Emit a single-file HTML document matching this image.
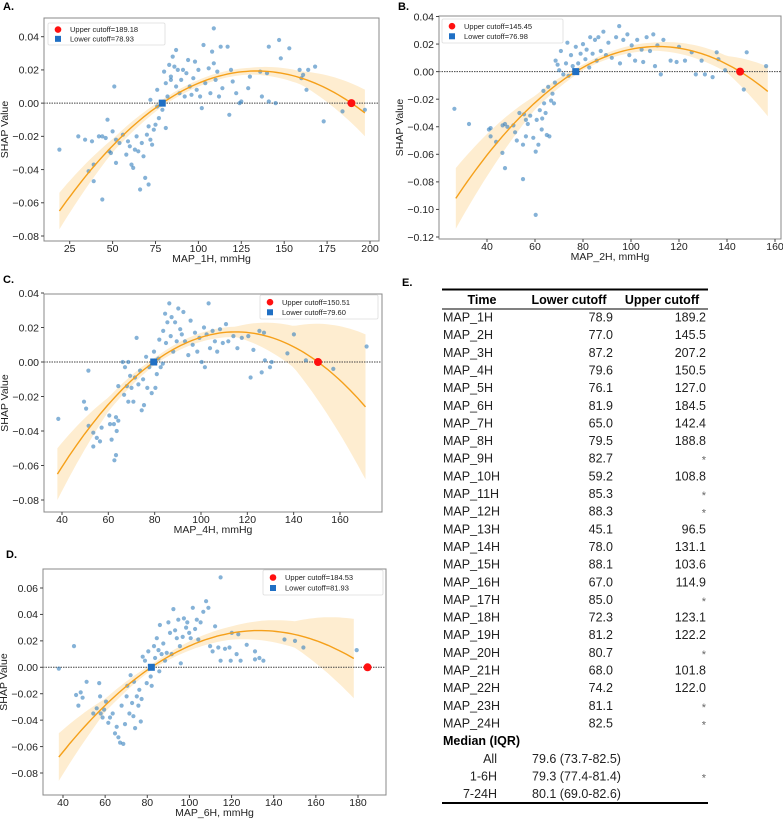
<!DOCTYPE html>
<html><head><meta charset="utf-8">
<style>
html,body{margin:0;padding:0;background:#fff;}
svg{display:block;font-family:"Liberation Sans",sans-serif;}
</style></head>
<body>
<svg id="fig" width="783" height="819" viewBox="0 0 783 819" xmlns="http://www.w3.org/2000/svg"></svg>
<script>
// ---------- DATA ----------
const aX=[19,30,34,38,36,39,39,42,44,44,46,47,48,49,50,51,52,52,54,56,58,59,60,61,62,63,64,65,66,67,68,69,70,71,71,72,72,73,74,75,76,76,77,79,80,81,81,82,83,84,84,85,86,87,87,88,89,90,91,92,93,94,95,96,97,98,99,100,101,102,103,104,106,107,108,109,109,110,111,112,113,114,117,118,119,120,122,124,125,129,130,136,137,140,141,141,145,147,148,153,159,160,161,163,164,168,173,184,197];
const aY=[-0.028,-0.020,-0.022,-0.023,-0.041,-0.037,-0.047,-0.020,-0.020,-0.058,-0.021,-0.010,-0.029,-0.030,-0.017,0.010,-0.022,-0.036,-0.024,-0.019,-0.031,-0.023,-0.026,-0.037,-0.039,-0.028,-0.020,-0.029,-0.052,-0.024,-0.032,-0.045,-0.019,-0.049,-0.014,0.002,-0.022,-0.025,-0.016,-0.013,0.008,-0.002,-0.009,-0.004,0.019,0.012,-0.015,0.004,0.023,0.016,0.014,0.028,0.022,0.032,0.010,0.020,0.006,0.014,0.020,0.004,0.018,0.026,0.010,0.005,0.015,0.025,0.008,0.020,0.004,-0.003,0.035,0.012,0.021,0.006,0.031,0.024,0.045,0.014,0.019,0.004,0.034,0.009,0.034,-0.007,0.020,0.013,0.006,0.000,0.001,0.009,0.016,0.019,0.004,0.018,0.001,0.034,0.000,0.038,0.027,0.033,0.020,0.015,0.017,0.008,0.020,0.022,-0.011,-0.005,-0.004];
const bX=[26.4,32.5,40.8,41.5,41.5,43.8,46.4,46.5,47.5,47.5,48.5,51,51.7,52.4,53.5,55,55,55.4,56.2,56.2,57,58,59.3,60.3,60.3,60.7,61.4,62,62.8,63,63.5,63.8,64.4,64.9,65.5,66,66.7,67.3,67.9,68.3,68.6,69.4,70.1,70.8,71.8,72.9,73.5,74,75,75.7,77,78,79,80,81,81.5,82.6,83,84,85,85.7,86.4,87.4,88.5,89.6,90.6,92,93.8,95.1,95.4,96.8,98.5,99.3,100.3,101.7,102.6,104.4,105.1,106.5,107.9,109.3,110,111,112.4,113.5,116.5,119,120,122.5,125.3,127,129.4,130.8,134,135.7,136.4,139.2,147,148.2,156.3];
const bY=[-0.027,-0.038,-0.042,-0.041,-0.047,-0.051,-0.059,-0.039,-0.038,-0.070,-0.040,-0.039,-0.044,-0.050,-0.030,-0.053,-0.078,-0.031,-0.035,-0.047,-0.038,-0.032,-0.048,-0.058,-0.104,-0.035,-0.053,-0.028,-0.042,-0.034,-0.014,-0.023,-0.030,-0.046,-0.011,-0.047,-0.021,-0.016,-0.023,-0.008,0.008,0.005,0.001,0.015,-0.002,0.006,0.021,-0.003,0.012,0.004,0.018,0.006,0.013,0.020,0.009,0.016,0.003,0.025,0.013,0.023,0.008,0.025,0.015,0.029,0.012,0.021,0.010,0.025,0.033,0.006,0.023,0.027,0.012,0.019,0.008,0.023,0.016,0.007,0.025,0.015,0.027,0.004,0.019,-0.002,0.023,0.008,0.007,0.018,0.008,0.014,-0.002,0.008,-0.002,-0.004,0.014,0.009,0.001,-0.013,0.014,0.004];
const cX=[38.4,49.5,50.4,51.4,51.5,53.5,53.5,55,56.4,57.1,60.4,60.7,61.4,62.4,62.6,63.3,63.3,63.6,64.3,64.3,66.2,66.8,67.2,68,68.6,68.6,69.4,70,70.8,71.5,72.2,73,73.7,74.4,75,75.4,76.3,76.8,77.7,78.7,79.7,80.3,80.9,81.6,82,82.6,83.5,83.7,84.5,84.9,85.5,86.3,86.9,87.3,88,88.8,89.5,90.2,91,91.7,92.4,93.1,94.5,95.5,96.4,97.4,98.4,99.3,100.3,101.3,101.7,102.4,103.3,103.9,105,106,107,108.2,109.4,110.8,111.8,114,115.7,117.6,120.4,121.4,122.6,125.2,126.2,127.2,127.6,129.8,130.5,137.3,140.1,145.3,157.1,171.5];
const cY=[-0.033,-0.023,-0.027,-0.005,-0.037,-0.041,-0.049,-0.044,-0.046,-0.038,-0.031,-0.036,-0.045,-0.036,-0.057,-0.032,-0.054,-0.040,-0.034,-0.014,0.000,-0.019,-0.003,-0.014,0.000,-0.023,-0.008,-0.015,-0.023,-0.009,0.014,-0.013,-0.005,-0.028,-0.010,-0.025,0.003,-0.015,-0.003,-0.018,0.006,-0.015,-0.007,0.002,0.013,-0.003,-0.001,0.018,0.028,0.011,0.023,0.034,0.015,0.026,0.006,0.023,0.012,0.031,0.019,0.016,0.029,0.012,0.004,0.024,0.010,0.017,0.006,0.014,0.000,0.020,-0.003,0.016,0.034,0.008,0.018,0.012,0.006,0.019,0.011,0.022,0.012,0.015,0.008,0.014,0.015,-0.009,0.007,0.018,-0.006,0.017,0.001,-0.003,0.000,0.005,0.016,0.001,-0.004,0.009];
const dX=[38,45.2,46.2,47.3,48.4,49.3,51.2,54.4,56,57.2,57.6,57.9,58.8,59.5,60.4,61.5,62.3,63.6,64.7,65.5,66.3,67.1,67.8,68.6,69.4,70.2,70.5,71.5,72.1,72.8,73.4,73.7,74.2,75,75.8,76.2,76.9,77.3,77.8,78.9,79.7,80.5,81.6,82.1,83.2,83.7,84.5,85.3,85.7,86,86.8,87.6,88.4,89.2,90,90.8,91.6,92.4,93.2,94,94.7,95.5,95.9,96.8,97.4,98.4,99,99.9,100.6,101.6,102.7,103.5,104.2,105.3,106.6,107.9,109,109.8,111,112.2,113.7,114.8,114.8,116.9,119,119.6,120.1,122.4,123.2,124.3,127.2,131.1,131.1,133.2,135.1,145.1,150.1,154.1,179.4];
const dY=[-0.001,0.016,-0.021,-0.029,-0.019,-0.023,-0.011,-0.035,-0.031,-0.012,-0.022,-0.035,-0.038,-0.032,-0.026,-0.042,-0.038,-0.035,-0.050,-0.045,-0.053,-0.057,-0.029,-0.058,-0.043,-0.022,-0.014,-0.035,-0.006,-0.027,-0.037,-0.011,-0.046,-0.022,-0.029,-0.017,-0.041,-0.024,0.008,0.005,-0.012,0.012,-0.007,-0.014,0.016,0.007,0.022,0.013,-0.003,0.032,0.010,0.018,0.005,0.011,0.034,0.026,0.010,0.044,0.028,0.022,0.036,0.016,0.003,0.023,0.037,0.030,0.034,0.026,0.022,0.045,0.029,0.036,0.021,0.034,0.042,0.050,0.045,0.016,0.012,0.031,0.015,0.005,0.068,0.014,0.015,0.005,0.026,0.010,0.025,0.005,0.017,0.012,0.006,0.007,0.005,0.021,0.020,0.015,0.013];
// cutoffs [lower, upper]
const aCut=[78.93,189.18], bCut=[76.98,145.45], cCut=[79.60,150.51], dCut=[81.93,184.53];
// quadratic coefficient of fitted curve y = k (x-lower)(x-upper)
const aK=-6.37e-6, bK=-1.554e-5, cK=-1.389e-5, dK=-1.056e-5;
const aRange=[19,197], bRange=[27,157], cRange=[38,171], dRange=[38,178];
// confidence band half-widths at sample x
const aCiX=[19,50,80,130,160,197], aCiW=[0.011,0.004,0.002,0.002,0.004,0.014];
const bCiX=[27,60,80,110,140,157], bCiW=[0.022,0.005,0.002,0.003,0.006,0.018];
const cCiX=[38,60,80,115,140,171], cCiW=[0.015,0.004,0.002,0.003,0.012,0.042];
const dCiX=[38,60,82,120,150,178], dCiW=[0.018,0.005,0.002,0.005,0.010,0.030];
// ticks
const aXT=[25,50,75,100,125,150,175,200], aYT=[0.04,0.02,0,-0.02,-0.04,-0.06,-0.08];
const bXT=[40,60,80,100,120,140,160], bYT=[0.04,0.02,0,-0.02,-0.04,-0.06,-0.08,-0.10,-0.12];
const cXT=[40,60,80,100,120,140,160], cYT=[0.04,0.02,0,-0.02,-0.04,-0.06,-0.08];
const dXT=[40,60,80,100,120,140,160,180], dYT=[0.06,0.04,0.02,0,-0.02,-0.04,-0.06,-0.08];
// table
const tTime=["MAP_1H","MAP_2H","MAP_3H","MAP_4H","MAP_5H","MAP_6H","MAP_7H","MAP_8H","MAP_9H","MAP_10H","MAP_11H","MAP_12H","MAP_13H","MAP_14H","MAP_15H","MAP_16H","MAP_17H","MAP_18H","MAP_19H","MAP_20H","MAP_21H","MAP_22H","MAP_23H","MAP_24H"];
const tLower=["78.9","77.0","87.2","79.6","76.1","81.9","65.0","79.5","82.7","59.2","85.3","88.3","45.1","78.0","88.1","67.0","85.0","72.3","81.2","80.7","68.0","74.2","81.1","82.5"];
const tUpper=["189.2","145.5","207.2","150.5","127.0","184.5","142.4","188.8","*","108.8","*","*","96.5","131.1","103.6","114.9","*","123.1","122.2","*","101.8","122.0","*","*"];
const mLabels=["All","1-6H","7-24H"], mVals=["79.6 (73.7-82.5)","79.3 (77.4-81.4)","80.1 (69.0-82.6)"];

// ---------- LAYOUT ----------
const panels=[
 {id:"a",letter:"A.",lx:3,ly:10,fx0:44,fx1:379,fy0:18,fy1:241,xr:[25,200],xp:[69.7,370],yr:[0.04,-0.08],yp:[36.7,236],
  X:aX,Y:aY,cut:aCut,k:aK,range:aRange,ciX:aCiX,ciW:aCiW,xt:aXT,yt:aYT,xlab:"MAP_1H, mmHg",leg:[48,23,117,22],ydec:2},
 {id:"b",letter:"B.",lx:398,ly:10,fx0:439,fx1:781,fy0:16,fy1:239,xr:[40,160],xp:[487,775],yr:[0.04,-0.12],yp:[16.5,237],
  X:bX,Y:bY,cut:bCut,k:bK,range:bRange,ciX:bCiX,ciW:bCiW,xt:bXT,yt:bYT,xlab:"MAP_2H, mmHg",leg:[442,19,121,24],ydec:2},
 {id:"c",letter:"C.",lx:3,ly:283,fx0:44,fx1:382,fy0:294,fy1:512,xr:[40,160],xp:[62,340],yr:[0.04,-0.08],yp:[293,500],
  X:cX,Y:cY,cut:cCut,k:cK,range:cRange,ciX:cCiX,ciW:cCiW,xt:cXT,yt:cYT,xlab:"MAP_4H, mmHg",leg:[260,295,118,24],ydec:2},
 {id:"d",letter:"D.",lx:6,ly:558,fx0:43,fx1:386,fy0:569,fy1:795,xr:[40,180],xp:[63,358],yr:[0.06,-0.08],yp:[588,773],
  X:dX,Y:dY,cut:dCut,k:dK,range:dRange,ciX:dCiX,ciW:dCiW,xt:dXT,yt:dYT,xlab:"MAP_6H, mmHg",leg:[263,570,120,25],ydec:2}
];
const NS="http://www.w3.org/2000/svg";
const svg=document.getElementById("fig");
function mk(tag,attrs,parent){const e=document.createElementNS(NS,tag);for(const k in attrs)e.setAttribute(k,attrs[k]);(parent||svg).appendChild(e);return e;}
function fmt(v,d){const s=Math.abs(v).toFixed(d);return (v<0?"\u2212":"")+s;}
function interp(xs,ws,x){if(x<=xs[0])return ws[0];for(let i=1;i<xs.length;i++){if(x<=xs[i]){const t=(x-xs[i-1])/(xs[i]-xs[i-1]);return ws[i-1]+t*(ws[i]-ws[i-1]);}}return ws[ws.length-1];}

panels.forEach(p=>{
 const sx=v=>p.xp[0]+(v-p.xr[0])*(p.xp[1]-p.xp[0])/(p.xr[1]-p.xr[0]);
 const sy=v=>p.yp[0]+(v-p.yr[0])*(p.yp[1]-p.yp[0])/(p.yr[1]-p.yr[0]);
 const g=mk("g",{});
 
 
 const L=mk("text",{x:p.lx,y:p.ly,"font-size":"11","font-weight":"bold",fill:"#000"},g);L.textContent=p.letter;
 
 
 const cp=mk("clipPath",{id:"clip"+p.id},g);mk("rect",{x:p.fx0,y:p.fy0,width:p.fx1-p.fx0,height:p.fy1-p.fy0},cp);
 const plot=mk("g",{"clip-path":"url(#clip"+p.id+")"},g);
 let up=[],lo=[],cur=[];
 const N=80;
 for(let i=0;i<=N;i++){const x=p.range[0]+(p.range[1]-p.range[0])*i/N;const y=p.k*(x-p.cut[0])*(x-p.cut[1]);const w=interp(p.ciX,p.ciW,x);
  up.push(sx(x).toFixed(1)+","+sy(y+w).toFixed(1));lo.unshift(sx(x).toFixed(1)+","+sy(y-w).toFixed(1));cur.push(sx(x).toFixed(1)+","+sy(y).toFixed(1));}
 const band=mk("polygon",{points:up.concat(lo).join(" "),fill:"#fde7c0","fill-opacity":"0.75"},plot);
 
 
 const z=mk("line",{x1:p.fx0,x2:p.fx1,y1:sy(0),y2:sy(0),stroke:"#444","stroke-width":"1","stroke-dasharray":"1.5,1"},plot);
 
 
 for(let i=0;i<p.X.length;i++){
  const c=mk("circle",{cx:sx(p.X[i]).toFixed(1),cy:sy(p.Y[i]).toFixed(1),r:"2.1",fill:"#3a82bf","fill-opacity":"0.62"},plot);
  
  
 }
 const cv=mk("polyline",{points:cur.join(" "),fill:"none",stroke:"#f5a01a","stroke-width":"1.4"},plot);
 
 
 const lm=mk("rect",{x:sx(p.cut[0])-3.5,y:sy(0)-3.5,width:7,height:7,fill:"#1f6fc4"},g);
 
 
 const um=mk("circle",{cx:Math.min(sx(p.cut[1]),p.fx1+1),cy:sy(0),r:"4",fill:"#ff1010"},g);
 
 
 const fr=mk("rect",{x:p.fx0,y:p.fy0,width:p.fx1-p.fx0,height:p.fy1-p.fy0,fill:"none",stroke:"#888","stroke-width":"1"},g);
 
 
 p.xt.forEach(v=>{const x=sx(v);mk("line",{x1:x,x2:x,y1:p.fy1,y2:p.fy1+3,stroke:"#444"},g);
  const t=mk("text",{x:x,y:p.fy1+11,"font-size":"10.5","text-anchor":"middle",fill:"#222"},g);t.textContent=String(v);
  
  });
 p.yt.forEach(v=>{const y=sy(v);mk("line",{x1:p.fx0-3,x2:p.fx0,y1:y,y2:y,stroke:"#444"},g);
  const t=mk("text",{x:p.fx0-5,y:y+3.8,"font-size":"10.5","text-anchor":"end",fill:"#222"},g);t.textContent=fmt(v,p.ydec);
  
  });
 const xl=mk("text",{x:(p.fx0+p.fx1)/2,y:p.fy1+21,"font-size":"10.5","text-anchor":"middle",fill:"#222"},g);xl.textContent=p.xlab;
 
 
 const yc=(p.fy0+p.fy1)/2, yx=p.fx0-36;
 const yl=mk("text",{x:yx,y:yc,"font-size":"10.5","text-anchor":"middle",fill:"#222",transform:"rotate(-90 "+yx+" "+yc+")"},g);yl.textContent="SHAP Value";
 
 
 const [lx,ly,lw,lh]=p.leg;
 const lg=mk("g",{},g);
 
 
 mk("rect",{x:lx,y:ly,width:lw,height:lh,fill:"#fff",stroke:"#ddd","stroke-width":"0.8",rx:"1.5"},lg);
 mk("circle",{cx:lx+10,cy:ly+lh*0.3,r:"3.3",fill:"#ff1010"},lg);
 mk("rect",{x:lx+7,y:ly+lh*0.72-3,width:6,height:6,fill:"#1f6fc4"},lg);
 const t1=mk("text",{x:lx+22,y:ly+lh*0.3+2.6,"font-size":"7.5",fill:"#222"},lg);t1.textContent="Upper cutoff="+p.cut[1].toFixed(2);
 
 
 const t2=mk("text",{x:lx+22,y:ly+lh*0.72+2.6,"font-size":"7.5",fill:"#222"},lg);t2.textContent="Lower cutoff="+p.cut[0].toFixed(2);
 
 
});

// ---------- TABLE ----------
const tg=mk("g",{});


const el=mk("text",{x:402,y:286,"font-size":"11","font-weight":"bold"},tg);el.textContent="E.";


mk("line",{x1:442,x2:708,y1:289.5,y2:289.5,stroke:"#000","stroke-width":"2"},tg);
mk("line",{x1:442,x2:708,y1:309,y2:309,stroke:"#000","stroke-width":"1"},tg);
mk("line",{x1:442,x2:708,y1:803,y2:803,stroke:"#000","stroke-width":"2"},tg);
[["Time",482],["Lower cutoff",569],["Upper cutoff",662]].forEach(h=>{
 const t=mk("text",{x:h[1],y:304,"font-size":"12.5","font-weight":"bold","text-anchor":"middle"},tg);t.textContent=h[0];
 
 
});
const rowH=17.65, r0=321.5;
tTime.forEach((tm,i)=>{
 const y=r0+i*rowH;
 const a=mk("text",{x:443,y:y,"font-size":"12.5",fill:"#222"},tg);a.textContent=tm;
 
 
 const b=mk("text",{x:613,y:y,"font-size":"12.5","text-anchor":"end",fill:"#222"},tg);b.textContent=tLower[i];
 
 
 const isStar=tUpper[i]==="*";
 const c=mk("text",{x:706,y:isStar?y+1:y,"font-size":isStar?"11":"12.5","text-anchor":"end",fill:isStar?"#666":"#222"},tg);c.textContent=tUpper[i];
 
 
});
const my=r0+24*rowH;
const mh=mk("text",{x:443,y:my,"font-size":"12.5","font-weight":"bold"},tg);mh.textContent="Median (IQR)";


mLabels.forEach((l,i)=>{
 const y=my+(i+1)*rowH;
 const a=mk("text",{x:497,y:y,"font-size":"12.5","text-anchor":"end",fill:"#222"},tg);a.textContent=l;
 
 
 const b=mk("text",{x:532,y:y,"font-size":"12.5",fill:"#222"},tg);b.textContent=mVals[i];
 
 
});
const st=mk("text",{x:706,y:my+2*rowH+1,"font-size":"11","text-anchor":"end",fill:"#666"},tg);st.textContent="*";


</script>
</body></html>
